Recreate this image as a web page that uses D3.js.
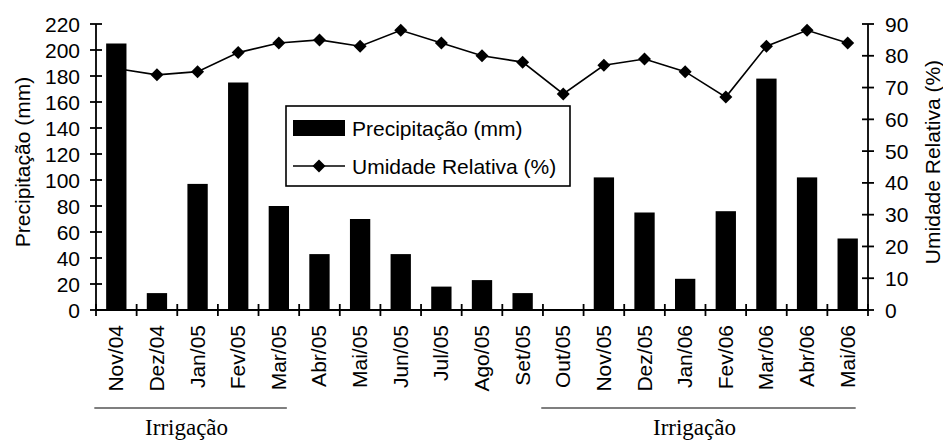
<!DOCTYPE html>
<html>
<head>
<meta charset="utf-8">
<script src="https://cdn.jsdelivr.net/npm/d3@7"></script>
<style>
  body { margin: 0; background: #fff; }
  text { font-family: "Liberation Sans", Arial, sans-serif; fill: #000; }
</style>
</head>
<body>
<div id="chart"></div>
<script>
// Precipitação x Umidade Relativa, Nov/04 - Mai/06

const months = ["Nov/04", "Dez/04", "Jan/05", "Fev/05", "Mar/05", "Abr/05", "Mai/05", "Jun/05", "Jul/05",
    "Ago/05", "Set/05", "Out/05", "Nov/05", "Dez/05", "Jan/06", "Fev/06", "Mar/06", "Abr/06", "Mai/06"];
const precip = [205, 13, 97, 175, 80, 43, 70, 43, 18, 23, 13, 0, 102, 75, 24, 76, 178, 102, 55];
const humidity = [76, 74, 75, 81, 84, 85, 83, 88, 84, 80, 78, 68, 77, 79, 75, 67, 83, 88, 84];
const leftTicks = [0, 20, 40, 60, 80, 100, 120, 140, 160, 180, 200, 220];
const rightTicks = [0, 10, 20, 30, 40, 50, 60, 70, 80, 90];
// irrigation periods (first and last month)
const irrigation = [["Nov/04", "Mar/05"], ["Out/05", "Mai/06"]];

const width = 943;
const height = 442;
const margin = { top: 24, right: 75, bottom: 132, left: 96 };
const plotW = width - margin.left - margin.right;
const plotH = height - margin.top - margin.bottom;

const svg = d3.select("#chart")
    .append("svg")
    .attr("width", width)
    .attr("height", height);

const g = svg.append("g")
    .attr("transform", `translate(${margin.left},${margin.top})`);

const x = d3.scaleBand()
    .domain(months)
    .range([0, plotW])
    .paddingInner(0.5)
    .paddingOuter(0.25);

const step = plotW / months.length;
const center = m => x(m) + x.bandwidth() / 2;

const yL = d3.scaleLinear().domain([0, 220]).range([plotH, 0]);
const yR = d3.scaleLinear().domain([0, 90]).range([plotH, 0]);

// humidity line (behind bars)
const line = d3.line()
    .x((d, i) => center(months[i]))
    .y(d => yR(d));

g.append("path")
    .datum(humidity)
    .attr("fill", "none")
    .attr("stroke", "#000")
    .attr("stroke-width", 1.6)
    .attr("d", line);

const diamond = r => `M0,${-r}L${r},0L0,${r}L${-r},0Z`;

g.selectAll(".marker")
    .data(humidity)
    .enter().append("path")
    .attr("class", "marker")
    .attr("d", diamond(6.5))
    .attr("fill", "#000")
    .attr("transform", (d, i) => `translate(${center(months[i])},${yR(d)})`);

// bars
g.selectAll(".bar")
    .data(precip)
    .enter().append("rect")
    .attr("class", "bar")
    .attr("x", (d, i) => x(months[i]))
    .attr("width", x.bandwidth())
    .attr("y", d => yL(d))
    .attr("height", d => plotH - yL(d))
    .attr("fill", "#000");

// axes
const axisStroke = 1.8;
g.append("line").attr("x1", 0).attr("x2", 0).attr("y1", 0).attr("y2", plotH)
    .attr("stroke", "#000").attr("stroke-width", axisStroke);
g.append("line").attr("x1", plotW).attr("x2", plotW).attr("y1", 0).attr("y2", plotH)
    .attr("stroke", "#000").attr("stroke-width", axisStroke);
g.append("line").attr("x1", 0).attr("x2", plotW).attr("y1", plotH).attr("y2", plotH)
    .attr("stroke", "#000").attr("stroke-width", axisStroke);

// left ticks
leftTicks.forEach(t => {
    g.append("line").attr("x1", -6).attr("x2", 6).attr("y1", yL(t)).attr("y2", yL(t))
        .attr("stroke", "#000").attr("stroke-width", axisStroke);
    g.append("text").attr("x", -16).attr("y", yL(t)).attr("dy", "0.36em")
        .attr("text-anchor", "end").style("font-size", "21px").text(t);
});

// right ticks
rightTicks.forEach(t => {
    g.append("line").attr("x1", plotW - 6).attr("x2", plotW + 6).attr("y1", yR(t)).attr("y2", yR(t))
        .attr("stroke", "#000").attr("stroke-width", axisStroke);
    g.append("text").attr("x", plotW + 17).attr("y", yR(t)).attr("dy", "0.36em")
        .attr("text-anchor", "start").style("font-size", "21px").text(t);
});

// x ticks at category boundaries
d3.range(months.length + 1).forEach(i => {
    g.append("line").attr("x1", i * step).attr("x2", i * step)
        .attr("y1", plotH - 6).attr("y2", plotH + 6)
        .attr("stroke", "#000").attr("stroke-width", axisStroke);
});

// month labels
g.selectAll(".month")
    .data(months)
    .enter().append("text")
    .attr("class", "month")
    .attr("text-anchor", "end")
    .attr("transform", d => `translate(${center(d) + 7},${plotH + 15}) rotate(-90)`)
    .style("font-size", "21px")
    .text(d => d);

// axis titles
svg.append("text")
    .attr("transform", `translate(30,${margin.top + 138}) rotate(-90)`)
    .attr("text-anchor", "middle")
    .style("font-size", "21px")
    .text("Precipitação (mm)");

svg.append("text")
    .attr("transform", `translate(940,${margin.top + 138}) rotate(-90)`)
    .attr("text-anchor", "middle")
    .style("font-size", "21px")
    .text("Umidade Relativa (%)");

// legend
const legend = svg.append("g").attr("transform", "translate(286,106)");
legend.append("rect").attr("width", 284).attr("height", 80)
    .attr("fill", "#fff").attr("stroke", "#000").attr("stroke-width", 1.6);
legend.append("rect").attr("x", 7).attr("y", 14).attr("width", 52).attr("height", 16).attr("fill", "#000");
legend.append("text").attr("x", 66).attr("y", 22).attr("dy", "0.36em")
    .style("font-size", "21px").text("Precipitação (mm)");
legend.append("line").attr("x1", 7).attr("x2", 59).attr("y1", 60).attr("y2", 60)
    .attr("stroke", "#000").attr("stroke-width", 1.6);
legend.append("path").attr("d", diamond(6.5)).attr("transform", "translate(33,60)");
legend.append("text").attr("x", 66).attr("y", 60).attr("dy", "0.36em")
    .style("font-size", "21px").text("Umidade Relativa (%)");

// irrigation periods
irrigation.forEach(([a, b]) => {
    const x1 = center(a) - 22 + margin.left;
    const x2 = center(b) + 8 + margin.left;
    svg.append("line").attr("x1", x1).attr("x2", x2).attr("y1", 408).attr("y2", 408)
        .attr("stroke", "#555").attr("stroke-width", 1.4);
    svg.append("text").attr("x", (x1 + x2) / 2 - 4).attr("y", 435)
        .attr("text-anchor", "middle")
        .style("font-family", "'Liberation Serif', 'Times New Roman', serif")
        .style("font-size", "23px")
        .text("Irrigação");
});
</script>
</body>
</html>
